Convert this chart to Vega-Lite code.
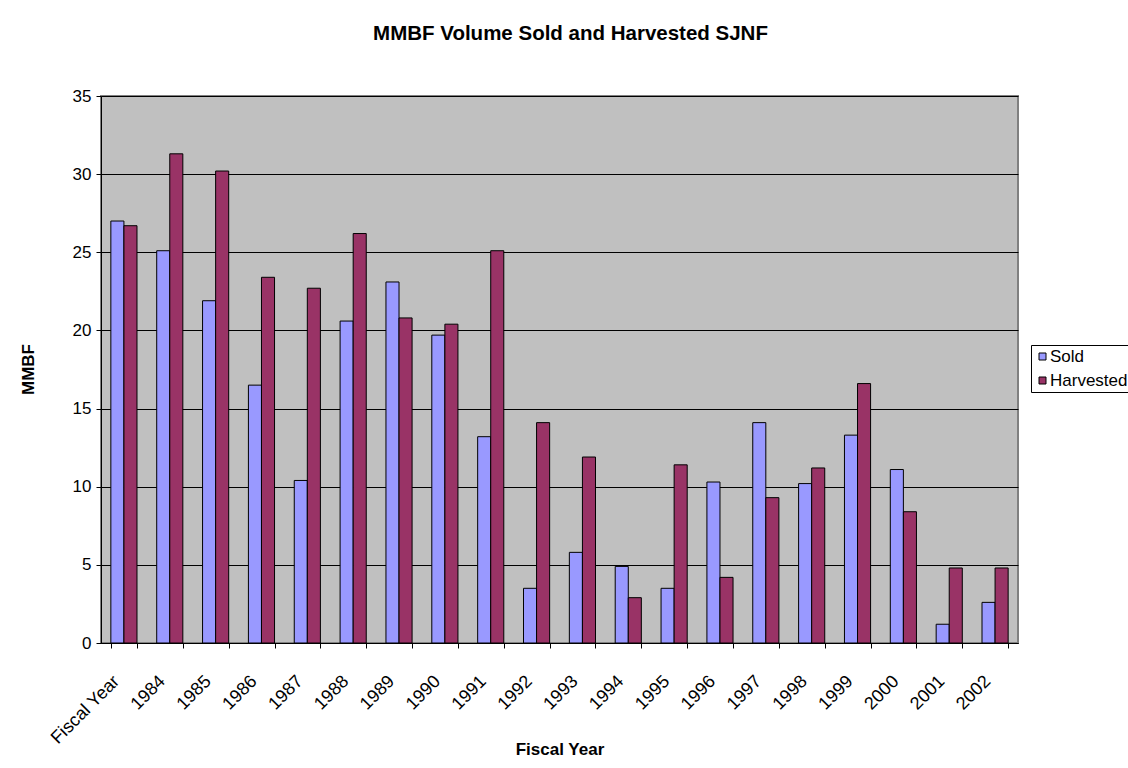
{
  "$schema": "https://vega.github.io/schema/vega-lite/v6.json",
  "autosize": "none",
  "width": 917,
  "height": 547,
  "padding": {"left": 101, "top": 96, "right": 110, "bottom": 125},
  "background": "white",
  "title": {
    "text": "MMBF Volume Sold and Harvested SJNF",
    "font": "Liberation Sans",
    "fontSize": 20.5,
    "fontWeight": "bold",
    "color": "black",
    "anchor": "middle",
    "frame": "group",
    "dx": 11,
    "offset": 43
  },
  "data": {
    "values": [
      {"year": "Fiscal Year", "series": "Sold", "value": 27.0},
      {"year": "Fiscal Year", "series": "Harvested", "value": 26.7},
      {"year": "1984", "series": "Sold", "value": 25.1},
      {"year": "1984", "series": "Harvested", "value": 31.3},
      {"year": "1985", "series": "Sold", "value": 21.9},
      {"year": "1985", "series": "Harvested", "value": 30.2},
      {"year": "1986", "series": "Sold", "value": 16.5},
      {"year": "1986", "series": "Harvested", "value": 23.4},
      {"year": "1987", "series": "Sold", "value": 10.4},
      {"year": "1987", "series": "Harvested", "value": 22.7},
      {"year": "1988", "series": "Sold", "value": 20.6},
      {"year": "1988", "series": "Harvested", "value": 26.2},
      {"year": "1989", "series": "Sold", "value": 23.1},
      {"year": "1989", "series": "Harvested", "value": 20.8},
      {"year": "1990", "series": "Sold", "value": 19.7},
      {"year": "1990", "series": "Harvested", "value": 20.4},
      {"year": "1991", "series": "Sold", "value": 13.2},
      {"year": "1991", "series": "Harvested", "value": 25.1},
      {"year": "1992", "series": "Sold", "value": 3.5},
      {"year": "1992", "series": "Harvested", "value": 14.1},
      {"year": "1993", "series": "Sold", "value": 5.8},
      {"year": "1993", "series": "Harvested", "value": 11.9},
      {"year": "1994", "series": "Sold", "value": 4.9},
      {"year": "1994", "series": "Harvested", "value": 2.9},
      {"year": "1995", "series": "Sold", "value": 3.5},
      {"year": "1995", "series": "Harvested", "value": 11.4},
      {"year": "1996", "series": "Sold", "value": 10.3},
      {"year": "1996", "series": "Harvested", "value": 4.2},
      {"year": "1997", "series": "Sold", "value": 14.1},
      {"year": "1997", "series": "Harvested", "value": 9.3},
      {"year": "1998", "series": "Sold", "value": 10.2},
      {"year": "1998", "series": "Harvested", "value": 11.2},
      {"year": "1999", "series": "Sold", "value": 13.3},
      {"year": "1999", "series": "Harvested", "value": 16.6},
      {"year": "2000", "series": "Sold", "value": 11.1},
      {"year": "2000", "series": "Harvested", "value": 8.4},
      {"year": "2001", "series": "Sold", "value": 1.2},
      {"year": "2001", "series": "Harvested", "value": 4.8},
      {"year": "2002", "series": "Sold", "value": 2.6},
      {"year": "2002", "series": "Harvested", "value": 4.8}
    ]
  },
  "mark": {"type": "bar", "stroke": "black", "strokeWidth": 1, "opacity": 1},
  "encoding": {
    "x": {
      "field": "year",
      "type": "nominal",
      "sort": null,
      "scale": {"paddingInner": 0.43, "paddingOuter": 0.215},
      "axis": {
        "title": "Fiscal Year",
        "labelAngle": -45,
        "labelAlign": "right",
        "labelBaseline": "top",
        "labelOffset": -14,
        "labelPadding": 24,
        "labelFontSize": 18,
        "titleFontSize": 17,
        "tickBand": "extent",
        "titleY": 98,
        "titleBaseline": "top"
      }
    },
    "xOffset": {
      "field": "series",
      "type": "nominal",
      "sort": ["Sold", "Harvested"],
      "scale": {"paddingInner": 0, "paddingOuter": 0}
    },
    "y": {
      "field": "value",
      "type": "quantitative",
      "scale": {"domain": [0, 35], "nice": false},
      "axis": {
        "title": "MMBF",
        "values": [0, 5, 10, 15, 20, 25, 30, 35],
        "grid": true,
        "labelFontSize": 17,
        "titleFontSize": 17,
        "titleX": -73,
        "titleY": 273,
        "titleAngle": -90,
        "titleAlign": "center",
        "titleBaseline": "middle",
        "labelPadding": 5
      }
    },
    "color": {
      "field": "series",
      "type": "nominal",
      "sort": ["Sold", "Harvested"],
      "scale": {"domain": ["Sold", "Harvested"], "range": ["#9999FF", "#993366"]},
      "legend": {
        "title": null,
        "orient": "none",
        "legendX": 930,
        "legendY": 249,
        "symbolType": "square",
        "symbolSize": 49,
        "symbolStrokeColor": "black",
        "symbolStrokeWidth": 1,
        "symbolOpacity": 1,
        "strokeColor": "black",
        "fillColor": "white",
        "padding": 3,
        "rowPadding": 6,
        "labelFontSize": 17,
        "labelFont": "Liberation Sans",
        "labelColor": "black",
        "labelOffset": -1
      }
    }
  },
  "config": {
    "font": "Liberation Sans",
    "view": {"fill": "#C0C0C0", "stroke": "#808080", "strokeWidth": 2},
    "axis": {
      "domainColor": "black",
      "domainWidth": 1,
      "tickColor": "black",
      "tickSize": 5,
      "labelFont": "Liberation Sans",
      "labelColor": "black",
      "titleFont": "Liberation Sans",
      "titleFontWeight": "bold",
      "titleColor": "black",
      "gridColor": "black",
      "gridWidth": 1,
      "gridOpacity": 1
    }
  }
}
